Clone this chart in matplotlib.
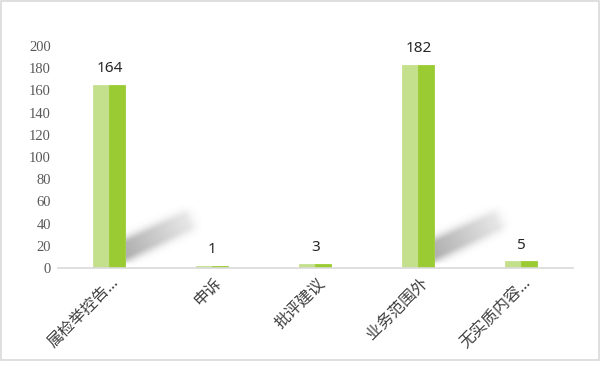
import numpy as np
import matplotlib
matplotlib.use("Agg")
import matplotlib.pyplot as plt
import matplotlib.transforms as mtransforms
from matplotlib.patches import Rectangle

categories = ["属检举控告…", "申诉", "批评建议", "业务范围外", "无实质内容…"]
values = [164, 1, 3, 182, 5]
yticks = [0, 20, 40, 60, 80, 100, 120, 140, 160, 180, 200]

W, H = 600, 371
fig = plt.figure(figsize=(W / 100, H / 100), dpi=100)
fig.patch.set_facecolor("white")

# outer border
fig.patches.append(Rectangle((0.5 / W, 11.5 / H), (W - 2) / W, (H - 12) / H,
                             transform=fig.transFigure, fill=False,
                             edgecolor="#D9D9D9", linewidth=1.2))

left, right = 58 / W, 573 / W
bottom, top = (H - 268) / H, (H - 46) / H
ax = fig.add_axes([left, bottom, right - left, top - bottom])
n = len(categories)
x = np.arange(n)
bw = 0.15
light = "#C4E08C"
dark = "#9BCB33"

# decorative soft shadow behind tall bars
ax_w, ax_h = 515, 222
yy, xx = np.mgrid[0:ax_h, 0:ax_w]
py = ax_h - yy
alpha = np.zeros((ax_h, ax_w))
ang = np.deg2rad(25)
for xi, v in zip(x, values):
    if v < 100:
        continue
    bx = (xi + 0.5) * ax_w / n + 0.16 * ax_w / n
    dx = xx - bx
    dy = py - 19
    u = dx * np.cos(ang) + dy * np.sin(ang)
    w = -dx * np.sin(ang) + dy * np.cos(ang)
    L = 64
    a_u = np.clip((u + 14) / 6, 0, 1) * np.where(u > L, np.exp(-((u - L) / 9) ** 2), 1.0)
    a_u *= (1 - 0.65 * np.clip(u / L, 0, 1))
    a_w = np.exp(-(np.maximum(np.abs(w) - 5, 0) / 7) ** 2)
    a = 0.55 * a_u * a_w
    a = np.where(dx < 0, 0, a)
    a = a * np.clip((py - 3) / 4, 0, 1)
    alpha = np.maximum(alpha, a)
img = np.zeros((ax_h, ax_w, 4))
img[..., :3] = 0.45
img[..., 3] = alpha
ax.imshow(img, extent=[0, 1, 0, 1], transform=ax.transAxes, aspect="auto",
          zorder=1, interpolation="bilinear")
ax.set_xlim(-0.5, n - 0.5)
ax.set_ylim(0, 200)

ax.bar(x - bw / 2 - 0.005, values, width=bw, color=light, edgecolor=light,
       linewidth=1.3, zorder=2)
ax.bar(x + bw / 2 + 0.005, values, width=bw, color=dark, edgecolor=dark,
       linewidth=1.3, zorder=2)

for xi, v in zip(x, values):
    ax.annotate(str(v), (xi, v), xytext=(0, 7), textcoords="offset points",
                ha="center", va="bottom", fontsize=11, color="#262626",
                family=["Noto Sans", "DejaVu Sans"])

for s in ["top", "right", "left"]:
    ax.spines[s].set_visible(False)
ax.spines["bottom"].set_color("#D9D9D9")
ax.spines["bottom"].set_linewidth(1.2)
ax.spines["bottom"].set_zorder(3)

ax.set_yticks(yticks)
ax.set_yticklabels([str(t) for t in yticks], family=["Liberation Serif"],
                   fontsize=10.5, color="#595959")
ax.tick_params(axis="y", length=0, pad=5)
ax.set_xticks(x)
ax.set_xticklabels(categories, rotation=45, ha="right", va="center",
                   rotation_mode="anchor",
                   family=["Noto Sans", "Noto Sans CJK SC", "DejaVu Sans"],
                   fontsize=11.5, color="#404040")
ax.tick_params(axis="x", length=0, pad=9)
shift = mtransforms.ScaledTranslation(5 / 72, 0, fig.dpi_scale_trans)
for lbl in ax.get_xticklabels():
    lbl.set_transform(lbl.get_transform() + shift)
ax.set_facecolor("none")

fig.savefig("out.png", dpi=100, facecolor="white")
